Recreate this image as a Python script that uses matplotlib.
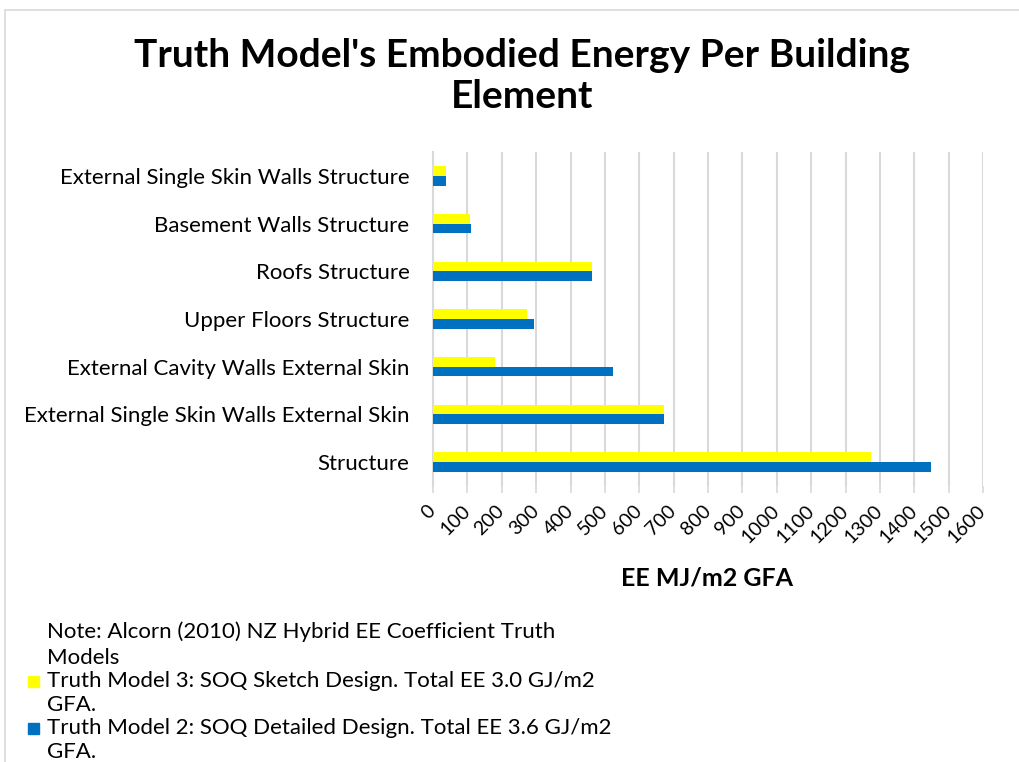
import matplotlib
matplotlib.use("Agg")
import matplotlib.pyplot as plt
import numpy as np
from matplotlib.patches import Rectangle

categories = [
    "Structure",
    "External Single Skin Walls External Skin",
    "External Cavity Walls External Skin",
    "Upper Floors Structure",
    "Roofs Structure",
    "Basement Walls Structure",
    "External Single Skin Walls Structure",
]
tm3_sketch = [1273, 672, 179, 274, 463, 109, 39]
tm2_detailed = [1449, 672, 524, 293, 463, 110, 39]
xticks = list(range(0, 1700, 100))

title = "Truth Model's Embodied Energy Per Building\nElement"
xlabel = "EE MJ/m2 GFA"
note_lines = ["Note: Alcorn (2010) NZ Hybrid EE Coefficient Truth", "Models"]
leg3_lines = ["Truth Model 3: SOQ Sketch Design. Total EE 3.0 GJ/m2", "GFA."]
leg2_lines = ["Truth Model 2: SOQ Detailed Design. Total EE 3.6 GJ/m2", "GFA."]

YEL = "#FFFF00"
BLU = "#0070C0"
GRID = "#d9d9d9"

plt.rcParams['font.family'] = ['Lato', 'DejaVu Sans']

W, H = 1019, 762
fig = plt.figure(figsize=(W / 100, H / 100), dpi=100)

# outer chart border
fig.patches.append(Rectangle((5 / W, -0.1), 1.2, 1 - 10 / H + 0.1, transform=fig.transFigure,
                             fill=False, edgecolor=GRID, linewidth=1.2))

ax = fig.add_axes([433 / W, 1 - 486 / H, 550 / W, 334 / H])
y = np.arange(len(categories))
bh = 0.205
ax.barh(y + bh / 2, tm3_sketch, height=bh, color=YEL, zorder=3)
ax.barh(y - bh / 2, tm2_detailed, height=bh, color=BLU, zorder=3)

ax.set_xlim(0, 1600)
ax.set_ylim(-0.5, len(categories) - 0.5)
ax.set_xticks(xticks)
ax.set_xticklabels([str(v) for v in xticks], rotation=45, ha='right', va='center',
                   rotation_mode='anchor', fontsize=14)
ax.set_yticks(y)
ax.set_yticklabels(categories, fontsize=16)
ax.xaxis.grid(True, color=GRID, linewidth=1.5, zorder=0)
for s in ['top', 'right', 'bottom']:
    ax.spines[s].set_visible(False)
ax.spines['left'].set_color(GRID)
ax.spines['left'].set_linewidth(1.5)
ax.tick_params(axis='x', length=5, color=GRID, width=1.2, pad=11)
ax.tick_params(axis='y', length=0, pad=17)

fig.text(522 / W, 1 - 76 / H, title, ha='center', va='center', fontsize=28,
         fontweight='bold', linespacing=1.2)
fig.text(707 / W, 1 - 578 / H, xlabel, ha='center', va='center', fontsize=18, fontweight='bold')

legend_fs = 16
line_y = [632, 658, 681, 705, 728, 752]
all_lines = note_lines + leg3_lines + leg2_lines
for txt, yy in zip(all_lines, line_y):
    fig.text(47 / W, 1 - yy / H, txt, ha='left', va='center', fontsize=legend_fs)
fig.patches.append(Rectangle((28 / W, 1 - 687 / H), 11 / W, 11 / H, transform=fig.transFigure,
                             color=YEL))
fig.patches.append(Rectangle((28 / W, 1 - 734 / H), 11 / W, 11 / H, transform=fig.transFigure,
                             color=BLU))

fig.savefig("out.png", dpi=100, facecolor="white")
